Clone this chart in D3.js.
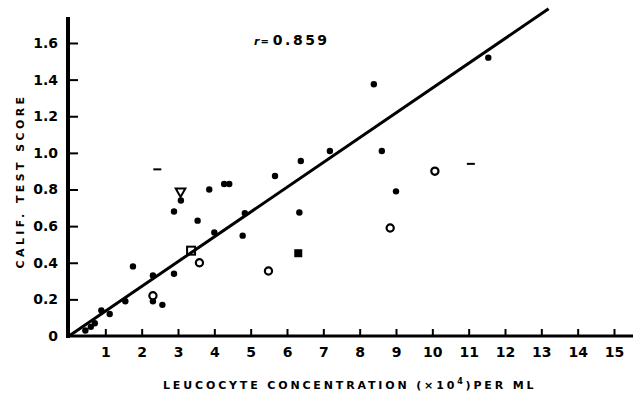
<!DOCTYPE html>
<html>
<head>
<meta charset="utf-8">
<script src="https://cdn.jsdelivr.net/npm/d3@7"></script>
<style>
  body { margin: 0; background: #fff; }
  svg { display: block; font-family: "DejaVu Sans", sans-serif; font-weight: bold; }
</style>
</head>
<body>
<svg width="636" height="396"></svg>
<script>
// 刻度
const xTicks = [1, 2, 3, 4, 5, 6, 7, 8, 9, 10, 11, 12, 13, 14, 15];
const yTicks = [0, 0.2, 0.4, 0.6, 0.8, 1.0, 1.2, 1.4, 1.6];

// 實心點 [濃度, 分數]
const dotPoints = [
  [0.45, 0.03], [0.6, 0.05], [0.71, 0.07], [0.89, 0.14], [1.12, 0.12],
  [1.55, 0.19], [1.76, 0.38], [2.31, 0.33], [2.57, 0.17], [2.89, 0.34],
  [2.31, 0.19], [3.08, 0.74], [2.89, 0.68], [3.54, 0.63], [3.86, 0.80],
  [4.27, 0.83], [4.41, 0.83], [4.0, 0.565], [4.78, 0.548], [4.84, 0.67],
  [5.67, 0.874], [6.38, 0.956], [6.34, 0.674], [7.18, 1.01], [8.61, 1.01],
  [8.39, 1.375], [9.0, 0.79], [11.54, 1.52]
];
// 空心圓
const circlePoints = [[2.31, 0.22], [3.59, 0.40], [5.49, 0.355], [8.84, 0.59], [10.07, 0.90]];
// 空心方塊 / 實心方塊
const openSquares = [[3.36, 0.466]];
const filledSquares = [[6.31, 0.452]];
// 倒三角
const triangles = [[3.07, 0.79]];
// 短橫線
const dashes = [[2.43, 0.91], [11.06, 0.94]];
// 迴歸線
const fitLine = [[0, 0], [13.2, 1.787]];
const rText = "0.859";

const svg = d3.select("svg");

const x = d3.scaleLinear().domain([0, 15]).range([69, 614]);
const y = d3.scaleLinear().domain([0, 1.6]).range([336, 43]);

// 軸線
svg.append("line")
  .attr("x1", 68).attr("x2", 68).attr("y1", 338).attr("y2", 17)
  .attr("stroke", "#000").attr("stroke-width", 4);
svg.append("line")
  .attr("x1", 66).attr("x2", 633).attr("y1", 336).attr("y2", 336)
  .attr("stroke", "#000").attr("stroke-width", 3);

const yAxis = svg.append("g")
  .attr("transform", "translate(68,0)")
  .call(d3.axisLeft(y).tickValues(yTicks).tickSize(-10).tickPadding(10)
    .tickFormat(d => d === 0 ? "0" : d3.format(".1f")(d)));
yAxis.select(".domain").remove();
yAxis.selectAll(".tick line").attr("stroke-width", 2);
yAxis.selectAll(".tick text")
  .attr("font-size", 14).attr("font-weight", "bold").attr("font-family", "DejaVu Sans");
yAxis.selectAll(".tick").filter(d => d === 0).select("line").remove();

const xAxis = svg.append("g")
  .attr("transform", "translate(0,336)")
  .call(d3.axisBottom(x).tickValues(xTicks).tickSize(-7).tickPadding(11));
xAxis.select(".domain").remove();
xAxis.selectAll(".tick line").attr("stroke-width", 2);
xAxis.selectAll(".tick text")
  .attr("font-size", 14).attr("font-weight", "bold").attr("font-family", "DejaVu Sans");

// 迴歸線
svg.append("path")
  .datum(fitLine)
  .attr("d", d3.line().x(d => x(d[0])).y(d => y(d[1])))
  .attr("stroke", "#000").attr("stroke-width", 3).attr("fill", "none");

// 點
svg.selectAll(".dot").data(dotPoints).enter().append("circle")
  .attr("class", "dot")
  .attr("cx", d => x(d[0])).attr("cy", d => y(d[1])).attr("r", 3.2)
  .attr("fill", "#000");

svg.selectAll(".ring").data(circlePoints).enter().append("circle")
  .attr("class", "ring")
  .attr("cx", d => x(d[0])).attr("cy", d => y(d[1])).attr("r", 3.6)
  .attr("fill", "#fff").attr("stroke", "#000").attr("stroke-width", 2.2);

svg.selectAll(".osq").data(openSquares).enter().append("rect")
  .attr("class", "osq")
  .attr("x", d => x(d[0]) - 4).attr("y", d => y(d[1]) - 4)
  .attr("width", 8).attr("height", 8)
  .attr("fill", "none").attr("stroke", "#000").attr("stroke-width", 2);

svg.selectAll(".fsq").data(filledSquares).enter().append("rect")
  .attr("class", "fsq")
  .attr("x", d => x(d[0]) - 4).attr("y", d => y(d[1]) - 4)
  .attr("width", 8).attr("height", 8)
  .attr("fill", "#000");

svg.selectAll(".tri").data(triangles).enter().append("path")
  .attr("class", "tri")
  .attr("transform", d => `translate(${x(d[0])},${y(d[1])}) rotate(180)`)
  .attr("d", d3.symbol(d3.symbolTriangle, 40))
  .attr("fill", "#fff").attr("stroke", "#000").attr("stroke-width", 2);

svg.selectAll(".dash").data(dashes).enter().append("line")
  .attr("class", "dash")
  .attr("x1", d => x(d[0]) - 4).attr("x2", d => x(d[0]) + 4)
  .attr("y1", d => y(d[1])).attr("y2", d => y(d[1]))
  .attr("stroke", "#000").attr("stroke-width", 2);

// r 值
const rLabel = svg.append("text").attr("x", 254).attr("y", 45);
rLabel.append("tspan").attr("font-size", 11).attr("font-style", "italic").text("r");
rLabel.append("tspan").attr("font-size", 10).attr("dx", 1).text("=");
rLabel.append("tspan").attr("font-size", 14).attr("dx", 4).attr("letter-spacing", 2.5).text(rText);

// 軸標題
const xLabel = svg.append("text")
  .attr("x", 163).attr("y", 389)
  .attr("font-size", 11).attr("letter-spacing", 2.85);
xLabel.append("tspan").text("LEUCOCYTE  CONCENTRATION  (×10");
xLabel.append("tspan").attr("font-size", 8).attr("dy", -5).text("4");
xLabel.append("tspan").attr("dy", 5).text(")PER  ML");

svg.append("text")
  .attr("transform", "translate(24,181) rotate(-90)")
  .attr("text-anchor", "middle")
  .attr("font-size", 11).attr("letter-spacing", 3.4)
  .text("CALIF.  TEST  SCORE");
</script>
</body>
</html>
